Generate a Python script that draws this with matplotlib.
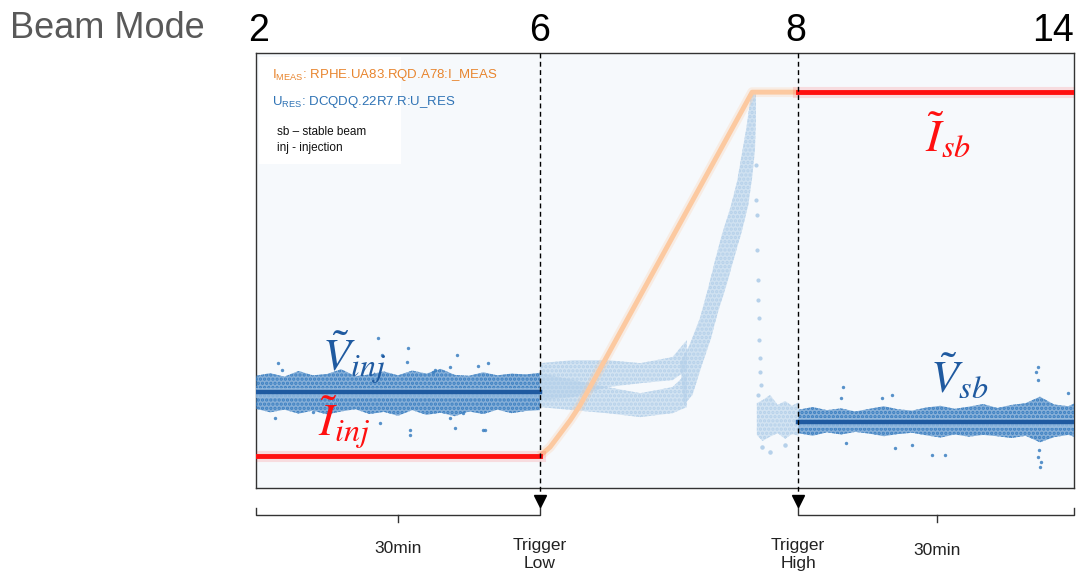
import matplotlib.pyplot as plt
import numpy as np

plt.rcParams['font.family'] = ['Liberation Sans', 'DejaVu Sans']
plt.rcParams['mathtext.fontset'] = 'custom'
plt.rcParams['mathtext.rm'] = 'Liberation Sans'
plt.rcParams['hatch.linewidth'] = 1.6

# time in minutes, signals in % of full scale
t_low = 30.0
t_high = 57.25
t_end = 86.4

i_inj = 7.4
i_sb = 91.0
v_inj = 22.1
v_sb = 15.2

# I_MEAS ramp between the two triggers
ramp_t = [30.0, 31.06, 32.1, 33.2, 34.2, 52.4, 57.25]
ramp_i = [7.4, 9.4, 12.4, 15.6, 18.9, 91.0, 91.0]

# U_RES noise envelope, injection plateau
inj_t = [0, 1.5, 3, 4.5, 6, 7.5, 9, 10.5, 12, 13.5, 15, 16.5, 18, 19.5, 21, 22.5, 24, 25.5, 27, 28.5, 30]
inj_hi = [25.8, 26.4, 25.6, 26.9, 25.9, 26.2, 27.3, 25.7, 26.1, 26.8, 25.9, 27.0, 26.3, 27.4, 26.0, 25.8, 26.6, 25.9, 26.3, 26.1, 26.5]
inj_lo = [18.2, 17.4, 18.0, 17.1, 17.8, 16.9, 17.6, 18.1, 17.0, 17.5, 16.6, 17.9, 16.8, 17.3, 16.5, 17.6, 17.0, 18.0, 17.2, 17.7, 17.9]
inj_out_t = [2.3, 2.7, 12.9, 13.3, 15.9, 16.3, 18.7, 20.5, 21.2, 24.5, 24.0, 13.1, 2.0, 6.0, 20.5, 21.9, 16.1, 16.3, 21.0, 24.2, 23.5, 18.9]
inj_out_v = [28.7, 27.1, 34.5, 30.6, 29.0, 13.3, 26.7, 27.8, 30.6, 28.7, 13.3, 14.9, 16.1, 17.5, 16.1, 17.2, 32.2, 12.2, 13.8, 13.3, 28.0, 27.1]

# U_RES noise envelope, stable beam plateau
sb_t = [57.3, 58.8, 60.3, 61.8, 63.3, 64.8, 66.3, 67.8, 69.3, 70.8, 72.3, 73.8, 75.3, 76.8, 78.3, 79.8, 81.3, 82.8, 84.3, 85.8, 86.4]
sb_hi = [18.0, 18.6, 17.9, 18.3, 17.6, 18.2, 18.8, 18.1, 17.8, 18.5, 18.9, 18.2, 18.7, 19.3, 18.4, 19.1, 19.5, 21.0, 19.2, 18.8, 19.4]
sb_lo = [12.6, 12.0, 12.8, 12.3, 12.9, 12.5, 11.9, 12.4, 12.7, 12.1, 11.6, 12.3, 11.8, 12.2, 11.9, 11.5, 12.0, 10.5, 11.7, 12.2, 11.8]
sb_out_t = [62.0, 61.8, 67.5, 69.3, 71.4, 62.3, 67.2, 66.1, 72.8, 82.6, 82.6, 82.8, 82.6, 85.8, 82.4, 82.9, 82.7]
sb_out_v = [23.2, 20.7, 9.2, 9.9, 7.6, 10.3, 21.4, 20.7, 7.6, 27.8, 24.8, 4.8, 7.1, 21.8, 26.7, 6.0, 8.7]

# U_RES during the ramp (two branches, then the rise)
up_t = [30.0, 33.5, 37.1, 40.6, 44.0, 45.5]
up_hi = [28.7, 29.4, 29.4, 28.7, 30.1, 34.0]
up_lo = [20.2, 20.9, 23.2, 24.1, 24.8, 27.1]
dn_t = [30.0, 33.5, 37.1, 40.6, 44.0, 45.5]
dn_hi = [26.4, 24.8, 23.2, 21.8, 23.2, 26.4]
dn_lo = [18.6, 17.9, 17.2, 16.3, 17.2, 18.6]
rise_t = [44.8, 45.8, 46.9, 47.7, 48.5, 49.2, 50.1, 50.8, 51.3, 51.8, 52.2, 52.4,
          52.8, 52.8, 52.7, 52.4, 52.0, 51.3, 50.5, 49.7, 48.8, 48.0, 47.1, 46.1, 45.2]
rise_v = [28.7, 32.9, 39.1, 45.5, 52.4, 58.2, 64.4, 70.3, 76.6, 82.8, 89.2, 91.0,
          91.0, 84.6, 77.7, 71.3, 65.1, 58.9, 52.9, 46.7, 40.5, 34.0, 28.3, 21.4, 19.1]
drop_t = [52.8, 52.8, 52.9, 52.9, 53.0, 53.0, 53.1, 53.1, 53.2, 53.2, 53.3, 53.0]
drop_v = [74.3, 66.2, 62.8, 54.7, 47.8, 43.2, 39.1, 34.0, 29.9, 26.7, 23.7, 21.4]
gap_t = [52.9, 53.5, 54.3, 55.1, 55.9, 56.6, 57.3]
gap_hi = [19.5, 20.2, 21.4, 19.1, 20.0, 18.9, 19.7]
gap_lo = [12.2, 10.8, 11.8, 12.6, 11.3, 12.4, 12.0]
gap_out_t = [54.3, 55.9, 53.4]
gap_out_v = [8.3, 9.9, 9.4]

modes = ['2', '6', '8', '14']
mode_t = [0.3, t_low, t_high - 0.2, t_end]
mode_ha = ['center', 'center', 'center', 'right']

dark_blue = '#1f5aa0'
dot_blue = '#3b7fc1'
light_blue = '#b6d1ea'
red = '#ff1010'
orange = '#fcc9a0'

fig = plt.figure(figsize=(10.76, 5.78), dpi=100)
ax = fig.add_axes([256 / 1076, 1 - 488 / 578, 818 / 1076, 435 / 578])
ax.set_facecolor('#f6f9fc')
ax.set_xlim(0, t_end)
ax.set_ylim(0, 100)
ax.set_xticks([])
ax.set_yticks([])
for s in ax.spines.values():
    s.set_color('#333333')
    s.set_linewidth(1.0)

# legend box
ax.add_patch(plt.Rectangle((0.3, 74.5), 15.0, 24.5, facecolor='white', edgecolor='none', zorder=1))

# voltage noise, middle part
for bt, blo, bhi in [(up_t, up_lo, up_hi), (dn_t, dn_lo, dn_hi), (gap_t, gap_lo, gap_hi)]:
    ax.fill_between(bt, blo, bhi, facecolor=light_blue, alpha=0.55, lw=0, zorder=2)
    ax.fill_between(bt, blo, bhi, facecolor='none', edgecolor=light_blue, hatch='....', lw=0, zorder=2)
ax.fill(rise_t, rise_v, facecolor=light_blue, alpha=0.6, lw=0, zorder=2)
ax.fill(rise_t, rise_v, facecolor='none', edgecolor=light_blue, hatch='....', lw=0, zorder=2)
ax.scatter(drop_t, drop_v, s=4, color=light_blue, zorder=2)
ax.scatter(gap_out_t, gap_out_v, s=5, color=light_blue, zorder=2)

# current
ax.plot(ramp_t, ramp_i, color=orange, lw=7, alpha=0.25, solid_capstyle='butt', zorder=3)
ax.plot(ramp_t, ramp_i, color=orange, lw=3.5, solid_capstyle='butt', zorder=3)
ax.plot([0, t_low], [i_inj, i_inj], color=red, lw=8, alpha=0.12, zorder=3)
ax.plot([0, t_low], [i_inj, i_inj], color=red, lw=3.5, zorder=4)
ax.plot([t_high, t_end], [i_sb, i_sb], color=red, lw=8, alpha=0.12, zorder=3)
ax.plot([t_high, t_end], [i_sb, i_sb], color=red, lw=3.5, zorder=4)

# voltage noise, plateaus
for bt, blo, bhi in [(inj_t, inj_lo, inj_hi), (sb_t, sb_lo, sb_hi)]:
    ax.fill_between(bt, blo, bhi, facecolor=dot_blue, alpha=0.6, lw=0, zorder=4)
    ax.fill_between(bt, blo, bhi, facecolor='none', edgecolor=dot_blue, hatch='....', lw=0, zorder=4)
ax.scatter(inj_out_t, inj_out_v, s=6, color=dot_blue, alpha=0.85, lw=0, zorder=4)
ax.scatter(sb_out_t, sb_out_v, s=6, color=dot_blue, alpha=0.85, lw=0, zorder=4)
for seg_t, v in [([0, t_low], v_inj), ([t_high, t_end], v_sb)]:
    ax.fill_between(seg_t, [v - 1.5] * 2, [v + 0.8] * 2, color='#9cc0e2', alpha=0.7, lw=0, zorder=5)
    ax.plot(seg_t, [v, v], color=dark_blue, lw=3.2, zorder=6)

# triggers
for t in [t_low, t_high]:
    ax.plot([t, t], [100, -1.8], color='black', lw=1.0, ls=(0, (3.5, 2.5)), clip_on=False, zorder=7)
    ax.plot([t], [-2.9], marker='v', ms=9, color='black', clip_on=False, zorder=7)

# 30 min brackets
ax.plot([0, 0, t_low, t_low], [-4.6, -6.2, -6.2, -4.4], color='#333333', lw=1.0, clip_on=False)
ax.plot([15.0, 15.0], [-6.2, -7.8], color='#333333', lw=1.0, clip_on=False)
ax.plot([t_high, t_high, t_end, t_end], [-4.4, -6.2, -6.2, -4.6], color='#333333', lw=1.0, clip_on=False)
ax.plot([71.9, 71.9], [-6.2, -7.8], color='#333333', lw=1.0, clip_on=False)

lab_kw = dict(fontsize=12.5, color='#222222', ha='center', va='center', linespacing=1.25)
ax.text(15.0, -14.0, '30min', **lab_kw)
ax.text(71.9, -14.3, '30min', **lab_kw)
ax.text(t_low, -15.4, 'Trigger\nLow', **lab_kw)
ax.text(t_high, -15.4, 'Trigger\nHigh', **lab_kw)

# beam modes
fig.text(10 / 1076, 1 - 38 / 578, 'Beam Mode', fontsize=26, color='#595959', va='baseline')
for m, t, ha in zip(modes, mode_t, mode_ha):
    ax.text(t, 102.8, m, fontsize=27, color='black', ha=ha, va='baseline', clip_on=False)

# signal names
ax.text(1.7, 94.3, r'I$_{\mathrm{MEAS}}$: RPHE.UA83.RQD.A78:I_MEAS', fontsize=9.5,
        color='#e8852e', va='baseline', zorder=8)
ax.text(1.7, 88.0, r'U$_{\mathrm{RES}}$: DCQDQ.22R7.R:U_RES', fontsize=9.5,
        color='#2f73b5', va='baseline', zorder=8)
ax.text(2.2, 81.1, 'sb – stable beam', fontsize=8.5, color='#111111', va='baseline', zorder=8)
ax.text(2.2, 77.5, 'inj - injection', fontsize=8.5, color='#111111', va='baseline', zorder=8)

big = dict(fontsize=33, math_fontfamily='stix', va='baseline', zorder=9)
ax.text(7.0, 26.7, r'$\tilde{V}_{inj}$', color=dark_blue, **big)
ax.text(6.5, 11.7, r'$\tilde{I}_{inj}$', color=red, **big)
ax.text(70.7, 77.2, r'$\tilde{I}_{sb}$', color=red, **big)
ax.text(71.2, 21.8, r'$\tilde{V}_{sb}$', color=dark_blue, **big)

fig.savefig('out.png', dpi=100)
